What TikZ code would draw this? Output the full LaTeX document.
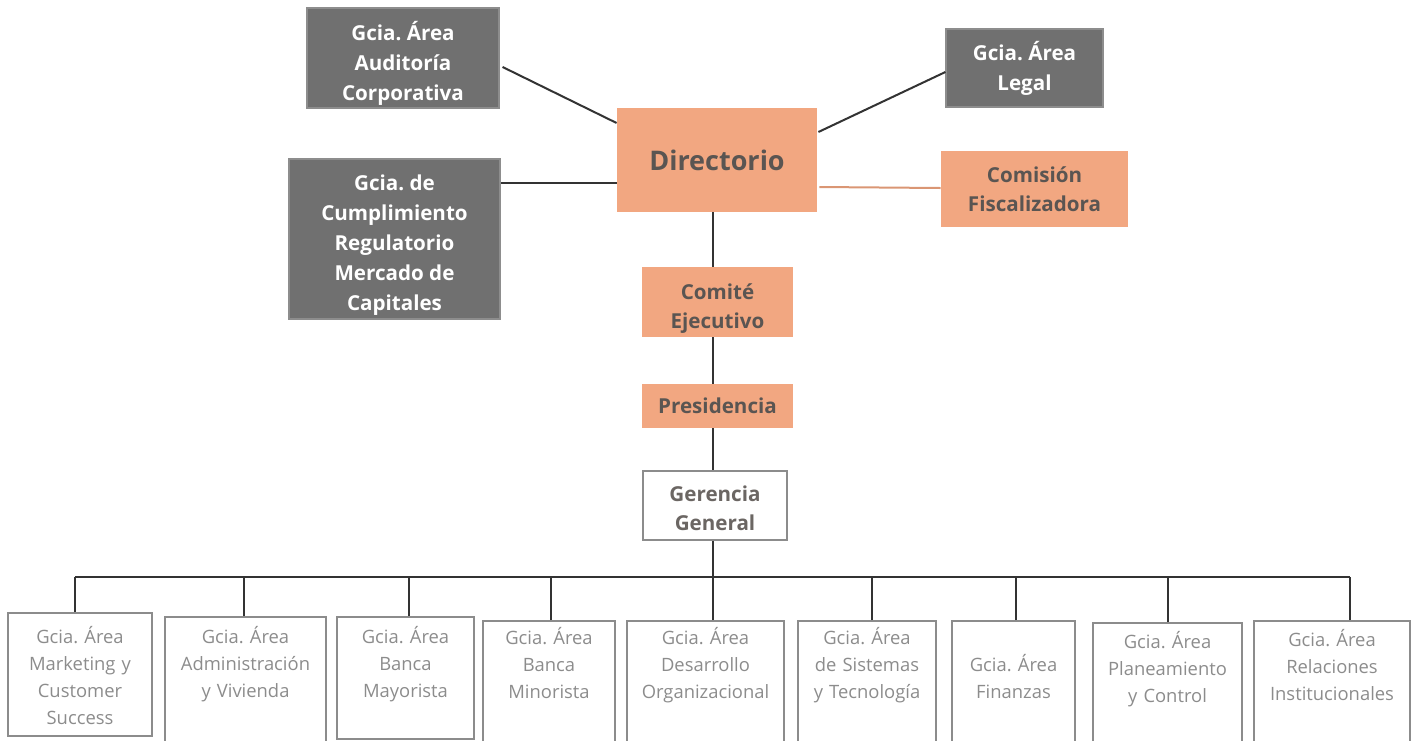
\documentclass[tikz,border=0pt]{standalone}
\usepackage{fontspec}
\setmainfont{Open Sans}
\usetikzlibrary{positioning,calc}
\definecolor{salmon}{HTML}{F2A781}
\definecolor{slate}{HTML}{707070}
\definecolor{inkgray}{HTML}{5A5552}
\definecolor{leafgray}{HTML}{8C8C8C}
\frenchspacing
\begin{document}
\begin{tikzpicture}[x=0.5pt,y=-0.5pt,
   darkbox/.style={fill=slate, draw=slate!80, line width=0.6pt, text=white, align=center, inner sep=0pt,
     font=\bfseries\fontsize{10.3}{15}\selectfont},
   peachbox/.style={fill=salmon, text=inkgray, align=center, inner sep=0pt,
     font=\bfseries\fontsize{10.3}{14.5}\selectfont},
   ggbox/.style={draw=leafgray, line width=0.8pt, text=inkgray!90, align=center, inner sep=0pt,
     font=\bfseries\fontsize{10.3}{14.5}\selectfont},
   leafbox/.style={draw=leafgray, line width=0.8pt, text=leafgray, align=center, anchor=north,
     inner sep=0pt, font=\fontsize{9.2}{13.5}\selectfont},
   link/.style={line width=1pt, draw=black!80}]
   \useasboundingbox (0,0) rectangle (1416,740);
   \node[darkbox, minimum width=96pt, minimum height=50pt,
     label={[darkbox, fill=none, draw=none, yshift=-2.8pt]center:{Gcia. Área\\Auditoría\\Corporativa}}] (audit) at (403,58) {};
   \node[darkbox, minimum width=78.5pt, minimum height=39pt] (legal) at (1024.5,68) {Gcia. Área\\Legal};
   \node[darkbox, minimum width=105.5pt, minimum height=80pt,
     label={[darkbox, fill=none, draw=none, yshift=-3pt]center:{Gcia. de\\Cumplimiento\\Regulatorio\\Mercado de\\Capitales}}] (cumpl) at (394.5,239) {};
   \node[peachbox, minimum width=100pt, minimum height=52pt, font=\bfseries\fontsize{13.5}{15}\selectfont] (direc) at (717,160) {Directorio};
   \node[peachbox, minimum width=93.5pt, minimum height=38pt] (comis) at (1034.5,189) {Comisión\\Fiscalizadora};
   \node[peachbox, minimum width=75.5pt, minimum height=35pt,
     label={[peachbox, fill=none, yshift=-3.2pt]center:{Comité\\Ejecutivo}}] (comite) at (717.5,302) {};
   \node[peachbox, minimum width=75.5pt, minimum height=22pt] (presid) at (717.5,406) {Presidencia};
   \node[ggbox, minimum width=72pt, minimum height=34.5pt,
     label={[ggbox, draw=none, yshift=-1.2pt]center:{Gerencia\\General}}] (gg) at (715,505.5) {};
   \coordinate (spine) at (713,577);
   \draw[link] ($(audit.east)+(3,9)$) -- ($(direc.west)+(0,-37)$);
   \draw[link] ($(legal.west)+(0,4)$) -- ($(direc.east)+(1,-28)$);
   \draw[link] ($(direc.west)+(0,23)$) coordinate (cj) -- (cj -| cumpl.east);
   \draw[line width=1pt, salmon!90!black] ($(direc.east)+(2,27)$) -- ($(comis.west)+(0,-1)$);
   \draw[link] (direc.south -| spine) -- (comite.north -| spine);
   \draw[link] (comite.south -| spine) -- (presid.north -| spine);
   \draw[link] (presid.south -| spine) -- (gg.north -| spine);
   \draw[link] (gg.south -| spine) -- (spine);
   \foreach \n/\x/\t/\w/\h/\d/\dx/\txt in {
      1/80/612/72/15.5/46/-5/{Gcia. Área\\Marketing y\\Customer\\Success},
      2/245.5/616/80.5/13.5/51/-1.5/{Gcia. Área\\Administración\\y Vivienda},
      3/405.5/616/68.5/13.5/47.5/3.5/{Gcia. Área\\Banca\\Mayorista},
      4/549/620/66/12/50.5/2/{Gcia. Área\\Banca\\Minorista},
      5/705.5/620/78.5/12/50.5/7.5/{Gcia. Área\\Desarrollo\\Organizacional},
      6/867/620/69/12/50.5/5/{Gcia. Área\\de Sistemas\\y Tecnología},
      7/1013.5/620/61.5/25.5/37/2.5/{Gcia. Área\\Finanzas},
      8/1167.5/622/74.5/13/48.5/0.5/{Gcia. Área\\Planeamiento\\y Control},
      9/1332/620/78/13/49.5/18/{Gcia. Área\\Relaciones\\Institucionales}}{
      \node[leafbox, text width=\w pt, text height=\h pt, text depth=\d pt] (m\n) at (\x,\t) {\txt};
      \draw[link] ($(m\n.north)+(\dx,0)$) coordinate (d\n) -- (d\n |- spine);
   }
   \draw[link] (d1 |- spine) -- (d9 |- spine);
\end{tikzpicture}
\end{document}
